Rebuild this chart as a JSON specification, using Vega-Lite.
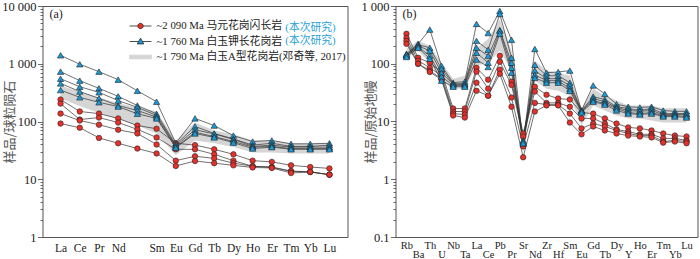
{
  "$schema": "https://vega.github.io/schema/vega-lite/v6.json",
  "padding": {"left": 0.5, "top": -1, "right": 2, "bottom": 0},
  "bounds": "flush",
  "spacing": 48,
  "config": {
    "view": {"stroke": "#555555", "strokeWidth": 1},
    "axis": {"grid": false, "domain": false, "labelFont": "Liberation Serif, Noto Sans CJK SC", "labelColor": "#222222", "tickColor": "#444444", "tickWidth": 0.8, "titleFont": "Noto Sans CJK SC", "titleColor": "#555555", "titleFontWeight": "normal"},
    "legend": {"labelFont": "Liberation Serif, Noto Sans CJK SC", "labelColor": "#222222", "labelLimit": 400},
    "title": {"font": "Liberation Serif", "fontWeight": "normal", "color": "#222222", "fontSize": 12}
  },
  "resolve": {"scale": {"shape": "independent", "fill": "independent", "stroke": "independent", "strokeDash": "independent"}},
  "datasets": {
    "leg": [
      {"g": "~2 090 Ma 马元花岗闪长岩", "b": "r1"},
      {"g": "~1 760 Ma 白玉钾长花岗岩", "b": "r2"},
      {"g": "~1 790 Ma 白玉A型花岗岩(邓奇等, 2017)", "b": "r2"}
    ],
    "reeband": [
      {"el": "La", "hi": 420, "lo": 250}, {"el": "Ce", "hi": 330, "lo": 185}, {"el": "Pr", "hi": 260, "lo": 140},
      {"el": "Nd", "hi": 210, "lo": 110}, {"el": "Pm", "hi": 175, "lo": 85}, {"el": "Sm", "hi": 150, "lo": 62},
      {"el": "Eu", "hi": 47, "lo": 26}, {"el": "Gd", "hi": 96, "lo": 47}, {"el": "Tb", "hi": 70, "lo": 42},
      {"el": "Dy", "hi": 60, "lo": 36}, {"el": "Ho", "hi": 47, "lo": 29}, {"el": "Er", "hi": 47, "lo": 29},
      {"el": "Tm", "hi": 42, "lo": 28}, {"el": "Yb", "hi": 42, "lo": 28}, {"el": "Lu", "hi": 42, "lo": 28}
    ],
    "ree": [
      {"s": "B1", "g": "b", "el": "La", "v": 1400}, {"s": "B1", "g": "b", "el": "Ce", "v": 980}, {"s": "B1", "g": "b", "el": "Pr", "v": 730}, {"s": "B1", "g": "b", "el": "Nd", "v": 530}, {"s": "B1", "g": "b", "el": "Pm", "v": 340}, {"s": "B1", "g": "b", "el": "Sm", "v": 220}, {"s": "B1", "g": "b", "el": "Eu", "v": 42}, {"s": "B1", "g": "b", "el": "Gd", "v": 113}, {"s": "B1", "g": "b", "el": "Tb", "v": 85}, {"s": "B1", "g": "b", "el": "Dy", "v": 57}, {"s": "B1", "g": "b", "el": "Ho", "v": 45}, {"s": "B1", "g": "b", "el": "Er", "v": 47}, {"s": "B1", "g": "b", "el": "Tm", "v": 41}, {"s": "B1", "g": "b", "el": "Yb", "v": 41}, {"s": "B1", "g": "b", "el": "Lu", "v": 42},
      {"s": "B2", "g": "b", "el": "La", "v": 730}, {"s": "B2", "g": "b", "el": "Ce", "v": 510}, {"s": "B2", "g": "b", "el": "Pr", "v": 375}, {"s": "B2", "g": "b", "el": "Nd", "v": 273}, {"s": "B2", "g": "b", "el": "Pm", "v": 189}, {"s": "B2", "g": "b", "el": "Sm", "v": 136}, {"s": "B2", "g": "b", "el": "Eu", "v": 40}, {"s": "B2", "g": "b", "el": "Gd", "v": 82}, {"s": "B2", "g": "b", "el": "Tb", "v": 62}, {"s": "B2", "g": "b", "el": "Dy", "v": 50}, {"s": "B2", "g": "b", "el": "Ho", "v": 39}, {"s": "B2", "g": "b", "el": "Er", "v": 42}, {"s": "B2", "g": "b", "el": "Tm", "v": 37}, {"s": "B2", "g": "b", "el": "Yb", "v": 37}, {"s": "B2", "g": "b", "el": "Lu", "v": 39},
      {"s": "B3", "g": "b", "el": "La", "v": 550}, {"s": "B3", "g": "b", "el": "Ce", "v": 400}, {"s": "B3", "g": "b", "el": "Pr", "v": 320}, {"s": "B3", "g": "b", "el": "Nd", "v": 230}, {"s": "B3", "g": "b", "el": "Pm", "v": 176}, {"s": "B3", "g": "b", "el": "Sm", "v": 127}, {"s": "B3", "g": "b", "el": "Eu", "v": 38}, {"s": "B3", "g": "b", "el": "Gd", "v": 72}, {"s": "B3", "g": "b", "el": "Tb", "v": 61}, {"s": "B3", "g": "b", "el": "Dy", "v": 49}, {"s": "B3", "g": "b", "el": "Ho", "v": 37}, {"s": "B3", "g": "b", "el": "Er", "v": 39}, {"s": "B3", "g": "b", "el": "Tm", "v": 36}, {"s": "B3", "g": "b", "el": "Yb", "v": 36}, {"s": "B3", "g": "b", "el": "Lu", "v": 36},
      {"s": "B4", "g": "b", "el": "La", "v": 457}, {"s": "B4", "g": "b", "el": "Ce", "v": 330}, {"s": "B4", "g": "b", "el": "Pr", "v": 252}, {"s": "B4", "g": "b", "el": "Nd", "v": 189}, {"s": "B4", "g": "b", "el": "Pm", "v": 155}, {"s": "B4", "g": "b", "el": "Sm", "v": 119}, {"s": "B4", "g": "b", "el": "Eu", "v": 36}, {"s": "B4", "g": "b", "el": "Gd", "v": 65}, {"s": "B4", "g": "b", "el": "Tb", "v": 55}, {"s": "B4", "g": "b", "el": "Dy", "v": 45}, {"s": "B4", "g": "b", "el": "Ho", "v": 36}, {"s": "B4", "g": "b", "el": "Er", "v": 37}, {"s": "B4", "g": "b", "el": "Tm", "v": 34}, {"s": "B4", "g": "b", "el": "Yb", "v": 34}, {"s": "B4", "g": "b", "el": "Lu", "v": 34},
      {"s": "B5", "g": "b", "el": "La", "v": 350}, {"s": "B5", "g": "b", "el": "Ce", "v": 262}, {"s": "B5", "g": "b", "el": "Pr", "v": 215}, {"s": "B5", "g": "b", "el": "Nd", "v": 181}, {"s": "B5", "g": "b", "el": "Pm", "v": 136}, {"s": "B5", "g": "b", "el": "Sm", "v": 113}, {"s": "B5", "g": "b", "el": "Eu", "v": 35}, {"s": "B5", "g": "b", "el": "Gd", "v": 62}, {"s": "B5", "g": "b", "el": "Tb", "v": 53}, {"s": "B5", "g": "b", "el": "Dy", "v": 43}, {"s": "B5", "g": "b", "el": "Ho", "v": 34}, {"s": "B5", "g": "b", "el": "Er", "v": 36}, {"s": "B5", "g": "b", "el": "Tm", "v": 33}, {"s": "B5", "g": "b", "el": "Yb", "v": 33}, {"s": "B5", "g": "b", "el": "Lu", "v": 33},
      {"s": "R1", "g": "r", "el": "La", "v": 240}, {"s": "R1", "g": "r", "el": "Ce", "v": 149}, {"s": "R1", "g": "r", "el": "Pr", "v": 137}, {"s": "R1", "g": "r", "el": "Nd", "v": 113}, {"s": "R1", "g": "r", "el": "Pm", "v": 85}, {"s": "R1", "g": "r", "el": "Sm", "v": 75}, {"s": "R1", "g": "r", "el": "Eu", "v": 42}, {"s": "R1", "g": "r", "el": "Gd", "v": 39}, {"s": "R1", "g": "r", "el": "Tb", "v": 33}, {"s": "R1", "g": "r", "el": "Dy", "v": 27}, {"s": "R1", "g": "r", "el": "Ho", "v": 21}, {"s": "R1", "g": "r", "el": "Er", "v": 20}, {"s": "R1", "g": "r", "el": "Tm", "v": 17.4}, {"s": "R1", "g": "r", "el": "Yb", "v": 16.3}, {"s": "R1", "g": "r", "el": "Lu", "v": 15.4},
      {"s": "R2", "g": "r", "el": "La", "v": 204}, {"s": "R2", "g": "r", "el": "Ce", "v": 108}, {"s": "R2", "g": "r", "el": "Pr", "v": 117}, {"s": "R2", "g": "r", "el": "Nd", "v": 96}, {"s": "R2", "g": "r", "el": "Pm", "v": 73}, {"s": "R2", "g": "r", "el": "Sm", "v": 53}, {"s": "R2", "g": "r", "el": "Eu", "v": 33}, {"s": "R2", "g": "r", "el": "Gd", "v": 33}, {"s": "R2", "g": "r", "el": "Tb", "v": 27}, {"s": "R2", "g": "r", "el": "Dy", "v": 21}, {"s": "R2", "g": "r", "el": "Ho", "v": 16.8}, {"s": "R2", "g": "r", "el": "Er", "v": 16.3}, {"s": "R2", "g": "r", "el": "Tm", "v": 13.9}, {"s": "R2", "g": "r", "el": "Yb", "v": 13.4}, {"s": "R2", "g": "r", "el": "Lu", "v": 12},
      {"s": "R3", "g": "r", "el": "La", "v": 137}, {"s": "R3", "g": "r", "el": "Ce", "v": 104}, {"s": "R3", "g": "r", "el": "Pr", "v": 88}, {"s": "R3", "g": "r", "el": "Nd", "v": 72}, {"s": "R3", "g": "r", "el": "Pm", "v": 62}, {"s": "R3", "g": "r", "el": "Sm", "v": 40}, {"s": "R3", "g": "r", "el": "Eu", "v": 21}, {"s": "R3", "g": "r", "el": "Gd", "v": 25}, {"s": "R3", "g": "r", "el": "Tb", "v": 23}, {"s": "R3", "g": "r", "el": "Dy", "v": 19}, {"s": "R3", "g": "r", "el": "Ho", "v": 16.8}, {"s": "R3", "g": "r", "el": "Er", "v": 16}, {"s": "R3", "g": "r", "el": "Tm", "v": 13.7}, {"s": "R3", "g": "r", "el": "Yb", "v": 13.4}, {"s": "R3", "g": "r", "el": "Lu", "v": 12},
      {"s": "R4", "g": "r", "el": "La", "v": 92}, {"s": "R4", "g": "r", "el": "Ce", "v": 78}, {"s": "R4", "g": "r", "el": "Pr", "v": 52}, {"s": "R4", "g": "r", "el": "Nd", "v": 42}, {"s": "R4", "g": "r", "el": "Pm", "v": 34}, {"s": "R4", "g": "r", "el": "Sm", "v": 28}, {"s": "R4", "g": "r", "el": "Eu", "v": 17}, {"s": "R4", "g": "r", "el": "Gd", "v": 20.7}, {"s": "R4", "g": "r", "el": "Tb", "v": 19}, {"s": "R4", "g": "r", "el": "Dy", "v": 17.4}, {"s": "R4", "g": "r", "el": "Ho", "v": 16}, {"s": "R4", "g": "r", "el": "Er", "v": 15.7}, {"s": "R4", "g": "r", "el": "Tm", "v": 12.8}, {"s": "R4", "g": "r", "el": "Yb", "v": 13.4}, {"s": "R4", "g": "r", "el": "Lu", "v": 12}
    ],
    "trband": [
      {"el": "Rb", "hi": 181, "lo": 122}, {"el": "Ba", "hi": 249, "lo": 168}, {"el": "Th", "hi": 204, "lo": 104}, {"el": "U", "hi": 104, "lo": 51}, {"el": "Nb", "hi": 55, "lo": 37},
      {"el": "Ta", "hi": 62, "lo": 37}, {"el": "La", "hi": 181, "lo": 92}, {"el": "Ce", "hi": 270, "lo": 104}, {"el": "Pb", "hi": 597, "lo": 168}, {"el": "Pr", "hi": 168, "lo": 76},
      {"el": "Sr", "hi": 5, "lo": 3}, {"el": "Nd", "hi": 113, "lo": 51}, {"el": "Zr", "hi": 76, "lo": 37}, {"el": "Hf", "hi": 70, "lo": 34}, {"el": "Sm", "hi": 62, "lo": 28},
      {"el": "Eu", "hi": 17, "lo": 8.5}, {"el": "Gd", "hi": 37, "lo": 19}, {"el": "Tb", "hi": 28, "lo": 15.5}, {"el": "Dy", "hi": 23, "lo": 12.7}, {"el": "Y", "hi": 19, "lo": 11.3},
      {"el": "Ho", "hi": 19, "lo": 11.3}, {"el": "Er", "hi": 19, "lo": 10.4}, {"el": "Tm", "hi": 17, "lo": 9.6}, {"el": "Yb", "hi": 17, "lo": 9.6}, {"el": "Lu", "hi": 17, "lo": 9.6}
    ],
    "tr": [
      {"s": "B1", "g": "b", "el": "Rb", "v": 149}, {"s": "B1", "g": "b", "el": "Ba", "v": 221}, {"s": "B1", "g": "b", "el": "Th", "v": 390}, {"s": "B1", "g": "b", "el": "U", "v": 92}, {"s": "B1", "g": "b", "el": "Nb", "v": 47}, {"s": "B1", "g": "b", "el": "Ta", "v": 49}, {"s": "B1", "g": "b", "el": "La", "v": 490}, {"s": "B1", "g": "b", "el": "Ce", "v": 340}, {"s": "B1", "g": "b", "el": "Pb", "v": 820}, {"s": "B1", "g": "b", "el": "Pr", "v": 260}, {"s": "B1", "g": "b", "el": "Sr", "v": 4.2}, {"s": "B1", "g": "b", "el": "Nd", "v": 180}, {"s": "B1", "g": "b", "el": "Zr", "v": 70}, {"s": "B1", "g": "b", "el": "Hf", "v": 72}, {"s": "B1", "g": "b", "el": "Sm", "v": 76}, {"s": "B1", "g": "b", "el": "Eu", "v": 15.5}, {"s": "B1", "g": "b", "el": "Gd", "v": 42}, {"s": "B1", "g": "b", "el": "Tb", "v": 30}, {"s": "B1", "g": "b", "el": "Dy", "v": 20}, {"s": "B1", "g": "b", "el": "Y", "v": 18}, {"s": "B1", "g": "b", "el": "Ho", "v": 17.5}, {"s": "B1", "g": "b", "el": "Er", "v": 18}, {"s": "B1", "g": "b", "el": "Tm", "v": 15.5}, {"s": "B1", "g": "b", "el": "Yb", "v": 15}, {"s": "B1", "g": "b", "el": "Lu", "v": 15},
      {"s": "B2", "g": "b", "el": "Rb", "v": 143}, {"s": "B2", "g": "b", "el": "Ba", "v": 214}, {"s": "B2", "g": "b", "el": "Th", "v": 189}, {"s": "B2", "g": "b", "el": "U", "v": 82}, {"s": "B2", "g": "b", "el": "Nb", "v": 45}, {"s": "B2", "g": "b", "el": "Ta", "v": 45}, {"s": "B2", "g": "b", "el": "La", "v": 249}, {"s": "B2", "g": "b", "el": "Ce", "v": 175}, {"s": "B2", "g": "b", "el": "Pb", "v": 728}, {"s": "B2", "g": "b", "el": "Pr", "v": 127}, {"s": "B2", "g": "b", "el": "Sr", "v": 4.7}, {"s": "B2", "g": "b", "el": "Nd", "v": 96}, {"s": "B2", "g": "b", "el": "Zr", "v": 62}, {"s": "B2", "g": "b", "el": "Hf", "v": 62}, {"s": "B2", "g": "b", "el": "Sm", "v": 47}, {"s": "B2", "g": "b", "el": "Eu", "v": 15.5}, {"s": "B2", "g": "b", "el": "Gd", "v": 27}, {"s": "B2", "g": "b", "el": "Tb", "v": 24}, {"s": "B2", "g": "b", "el": "Dy", "v": 18}, {"s": "B2", "g": "b", "el": "Y", "v": 16.8}, {"s": "B2", "g": "b", "el": "Ho", "v": 15.5}, {"s": "B2", "g": "b", "el": "Er", "v": 16.8}, {"s": "B2", "g": "b", "el": "Tm", "v": 13.7}, {"s": "B2", "g": "b", "el": "Yb", "v": 13.7}, {"s": "B2", "g": "b", "el": "Lu", "v": 13.7},
      {"s": "B3", "g": "b", "el": "Rb", "v": 137}, {"s": "B3", "g": "b", "el": "Ba", "v": 204}, {"s": "B3", "g": "b", "el": "Th", "v": 168}, {"s": "B3", "g": "b", "el": "U", "v": 70}, {"s": "B3", "g": "b", "el": "Nb", "v": 44}, {"s": "B3", "g": "b", "el": "Ta", "v": 44}, {"s": "B3", "g": "b", "el": "La", "v": 189}, {"s": "B3", "g": "b", "el": "Ce", "v": 137}, {"s": "B3", "g": "b", "el": "Pb", "v": 385}, {"s": "B3", "g": "b", "el": "Pr", "v": 104}, {"s": "B3", "g": "b", "el": "Sr", "v": 4.3}, {"s": "B3", "g": "b", "el": "Nd", "v": 76}, {"s": "B3", "g": "b", "el": "Zr", "v": 55}, {"s": "B3", "g": "b", "el": "Hf", "v": 55}, {"s": "B3", "g": "b", "el": "Sm", "v": 42}, {"s": "B3", "g": "b", "el": "Eu", "v": 15}, {"s": "B3", "g": "b", "el": "Gd", "v": 25}, {"s": "B3", "g": "b", "el": "Tb", "v": 22}, {"s": "B3", "g": "b", "el": "Dy", "v": 17.5}, {"s": "B3", "g": "b", "el": "Y", "v": 15.5}, {"s": "B3", "g": "b", "el": "Ho", "v": 15}, {"s": "B3", "g": "b", "el": "Er", "v": 15.5}, {"s": "B3", "g": "b", "el": "Tm", "v": 13.2}, {"s": "B3", "g": "b", "el": "Yb", "v": 13.2}, {"s": "B3", "g": "b", "el": "Lu", "v": 13.2},
      {"s": "B4", "g": "b", "el": "Rb", "v": 143}, {"s": "B4", "g": "b", "el": "Ba", "v": 196}, {"s": "B4", "g": "b", "el": "Th", "v": 137}, {"s": "B4", "g": "b", "el": "U", "v": 60}, {"s": "B4", "g": "b", "el": "Nb", "v": 42}, {"s": "B4", "g": "b", "el": "Ta", "v": 42}, {"s": "B4", "g": "b", "el": "La", "v": 155}, {"s": "B4", "g": "b", "el": "Ce", "v": 104}, {"s": "B4", "g": "b", "el": "Pb", "v": 370}, {"s": "B4", "g": "b", "el": "Pr", "v": 85}, {"s": "B4", "g": "b", "el": "Sr", "v": 4.5}, {"s": "B4", "g": "b", "el": "Nd", "v": 64}, {"s": "B4", "g": "b", "el": "Zr", "v": 51}, {"s": "B4", "g": "b", "el": "Hf", "v": 51}, {"s": "B4", "g": "b", "el": "Sm", "v": 37}, {"s": "B4", "g": "b", "el": "Eu", "v": 15}, {"s": "B4", "g": "b", "el": "Gd", "v": 23}, {"s": "B4", "g": "b", "el": "Tb", "v": 20.5}, {"s": "B4", "g": "b", "el": "Dy", "v": 16.8}, {"s": "B4", "g": "b", "el": "Y", "v": 14.3}, {"s": "B4", "g": "b", "el": "Ho", "v": 13.7}, {"s": "B4", "g": "b", "el": "Er", "v": 14.3}, {"s": "B4", "g": "b", "el": "Tm", "v": 12.7}, {"s": "B4", "g": "b", "el": "Yb", "v": 12.7}, {"s": "B4", "g": "b", "el": "Lu", "v": 12.2},
      {"s": "B5", "g": "b", "el": "Rb", "v": 131}, {"s": "B5", "g": "b", "el": "Ba", "v": 189}, {"s": "B5", "g": "b", "el": "Th", "v": 122}, {"s": "B5", "g": "b", "el": "U", "v": 51}, {"s": "B5", "g": "b", "el": "Nb", "v": 40}, {"s": "B5", "g": "b", "el": "Ta", "v": 40}, {"s": "B5", "g": "b", "el": "La", "v": 118}, {"s": "B5", "g": "b", "el": "Ce", "v": 88}, {"s": "B5", "g": "b", "el": "Pb", "v": 330}, {"s": "B5", "g": "b", "el": "Pr", "v": 70}, {"s": "B5", "g": "b", "el": "Sr", "v": 4.2}, {"s": "B5", "g": "b", "el": "Nd", "v": 57}, {"s": "B5", "g": "b", "el": "Zr", "v": 47}, {"s": "B5", "g": "b", "el": "Hf", "v": 47}, {"s": "B5", "g": "b", "el": "Sm", "v": 34}, {"s": "B5", "g": "b", "el": "Eu", "v": 14.3}, {"s": "B5", "g": "b", "el": "Gd", "v": 22}, {"s": "B5", "g": "b", "el": "Tb", "v": 19.6}, {"s": "B5", "g": "b", "el": "Dy", "v": 15.5}, {"s": "B5", "g": "b", "el": "Y", "v": 13.7}, {"s": "B5", "g": "b", "el": "Ho", "v": 13.2}, {"s": "B5", "g": "b", "el": "Er", "v": 13.7}, {"s": "B5", "g": "b", "el": "Tm", "v": 12.2}, {"s": "B5", "g": "b", "el": "Yb", "v": 12.2}, {"s": "B5", "g": "b", "el": "Lu", "v": 11.7},
      {"s": "R1", "g": "r", "el": "Rb", "v": 330}, {"s": "R1", "g": "r", "el": "Ba", "v": 127}, {"s": "R1", "g": "r", "el": "Th", "v": 104}, {"s": "R1", "g": "r", "el": "U", "v": 72}, {"s": "R1", "g": "r", "el": "Nb", "v": 16.8}, {"s": "R1", "g": "r", "el": "Ta", "v": 16.8}, {"s": "R1", "g": "r", "el": "La", "v": 85}, {"s": "R1", "g": "r", "el": "Ce", "v": 53}, {"s": "R1", "g": "r", "el": "Pb", "v": 137}, {"s": "R1", "g": "r", "el": "Pr", "v": 49}, {"s": "R1", "g": "r", "el": "Sr", "v": 6.2}, {"s": "R1", "g": "r", "el": "Nd", "v": 40}, {"s": "R1", "g": "r", "el": "Zr", "v": 29}, {"s": "R1", "g": "r", "el": "Hf", "v": 25}, {"s": "R1", "g": "r", "el": "Sm", "v": 24}, {"s": "R1", "g": "r", "el": "Eu", "v": 14.3}, {"s": "R1", "g": "r", "el": "Gd", "v": 13.7}, {"s": "R1", "g": "r", "el": "Tb", "v": 11.3}, {"s": "R1", "g": "r", "el": "Dy", "v": 9.2}, {"s": "R1", "g": "r", "el": "Y", "v": 7.9}, {"s": "R1", "g": "r", "el": "Ho", "v": 7.6}, {"s": "R1", "g": "r", "el": "Er", "v": 7.0}, {"s": "R1", "g": "r", "el": "Tm", "v": 6.2}, {"s": "R1", "g": "r", "el": "Yb", "v": 5.7}, {"s": "R1", "g": "r", "el": "Lu", "v": 5.5},
      {"s": "R2", "g": "r", "el": "Rb", "v": 280}, {"s": "R2", "g": "r", "el": "Ba", "v": 113}, {"s": "R2", "g": "r", "el": "Th", "v": 85}, {"s": "R2", "g": "r", "el": "U", "v": 62}, {"s": "R2", "g": "r", "el": "Nb", "v": 14.9}, {"s": "R2", "g": "r", "el": "Ta", "v": 14.9}, {"s": "R2", "g": "r", "el": "La", "v": 73}, {"s": "R2", "g": "r", "el": "Ce", "v": 37}, {"s": "R2", "g": "r", "el": "Pb", "v": 108}, {"s": "R2", "g": "r", "el": "Pr", "v": 43}, {"s": "R2", "g": "r", "el": "Sr", "v": 5.5}, {"s": "R2", "g": "r", "el": "Nd", "v": 33}, {"s": "R2", "g": "r", "el": "Zr", "v": 21}, {"s": "R2", "g": "r", "el": "Hf", "v": 21}, {"s": "R2", "g": "r", "el": "Sm", "v": 18}, {"s": "R2", "g": "r", "el": "Eu", "v": 11.3}, {"s": "R2", "g": "r", "el": "Gd", "v": 11.3}, {"s": "R2", "g": "r", "el": "Tb", "v": 9.2}, {"s": "R2", "g": "r", "el": "Dy", "v": 7.3}, {"s": "R2", "g": "r", "el": "Y", "v": 6.7}, {"s": "R2", "g": "r", "el": "Ho", "v": 6.0}, {"s": "R2", "g": "r", "el": "Er", "v": 6.0}, {"s": "R2", "g": "r", "el": "Tm", "v": 5.1}, {"s": "R2", "g": "r", "el": "Yb", "v": 5.1}, {"s": "R2", "g": "r", "el": "Lu", "v": 4.7},
      {"s": "R3", "g": "r", "el": "Rb", "v": 249}, {"s": "R3", "g": "r", "el": "Ba", "v": 100}, {"s": "R3", "g": "r", "el": "Th", "v": 76}, {"s": "R3", "g": "r", "el": "U", "v": 55}, {"s": "R3", "g": "r", "el": "Nb", "v": 13.7}, {"s": "R3", "g": "r", "el": "Ta", "v": 13.2}, {"s": "R3", "g": "r", "el": "La", "v": 47}, {"s": "R3", "g": "r", "el": "Ce", "v": 28}, {"s": "R3", "g": "r", "el": "Pb", "v": 79}, {"s": "R3", "g": "r", "el": "Pr", "v": 26}, {"s": "R3", "g": "r", "el": "Sr", "v": 3.7}, {"s": "R3", "g": "r", "el": "Nd", "v": 21}, {"s": "R3", "g": "r", "el": "Zr", "v": 19.6}, {"s": "R3", "g": "r", "el": "Hf", "v": 19.6}, {"s": "R3", "g": "r", "el": "Sm", "v": 13.7}, {"s": "R3", "g": "r", "el": "Eu", "v": 7.6}, {"s": "R3", "g": "r", "el": "Gd", "v": 9.2}, {"s": "R3", "g": "r", "el": "Tb", "v": 8.2}, {"s": "R3", "g": "r", "el": "Dy", "v": 7.0}, {"s": "R3", "g": "r", "el": "Y", "v": 6.2}, {"s": "R3", "g": "r", "el": "Ho", "v": 5.7}, {"s": "R3", "g": "r", "el": "Er", "v": 5.7}, {"s": "R3", "g": "r", "el": "Tm", "v": 4.5}, {"s": "R3", "g": "r", "el": "Yb", "v": 4.7}, {"s": "R3", "g": "r", "el": "Lu", "v": 4.5},
      {"s": "R4", "g": "r", "el": "Rb", "v": 221}, {"s": "R4", "g": "r", "el": "Ba", "v": 100}, {"s": "R4", "g": "r", "el": "Th", "v": 72}, {"s": "R4", "g": "r", "el": "U", "v": 53}, {"s": "R4", "g": "r", "el": "Nb", "v": 12.7}, {"s": "R4", "g": "r", "el": "Ta", "v": 11.7}, {"s": "R4", "g": "r", "el": "La", "v": 34}, {"s": "R4", "g": "r", "el": "Ce", "v": 28}, {"s": "R4", "g": "r", "el": "Pb", "v": 67}, {"s": "R4", "g": "r", "el": "Pr", "v": 18}, {"s": "R4", "g": "r", "el": "Sr", "v": 2.4}, {"s": "R4", "g": "r", "el": "Nd", "v": 14.9}, {"s": "R4", "g": "r", "el": "Zr", "v": 19}, {"s": "R4", "g": "r", "el": "Hf", "v": 19}, {"s": "R4", "g": "r", "el": "Sm", "v": 9.6}, {"s": "R4", "g": "r", "el": "Eu", "v": 6.0}, {"s": "R4", "g": "r", "el": "Gd", "v": 8.2}, {"s": "R4", "g": "r", "el": "Tb", "v": 7.0}, {"s": "R4", "g": "r", "el": "Dy", "v": 6.2}, {"s": "R4", "g": "r", "el": "Y", "v": 5.7}, {"s": "R4", "g": "r", "el": "Ho", "v": 5.5}, {"s": "R4", "g": "r", "el": "Er", "v": 5.3}, {"s": "R4", "g": "r", "el": "Tm", "v": 4.3}, {"s": "R4", "g": "r", "el": "Yb", "v": 4.5}, {"s": "R4", "g": "r", "el": "Lu", "v": 4.2}
    ]
  },
  "hconcat": [
    {
      "width": 305,
      "height": 231,
      "title": {"text": "(a)", "anchor": "start", "frame": "group", "offset": -21, "dx": 7},
      "resolve": {"axis": {"y": "independent"}},
      "layer": [
        {
          "data": {"name": "reeband"},
          "mark": {"type": "area", "color": "#d5d5d5", "opacity": 1},
          "encoding": {
            "x": {"field": "el", "type": "nominal", "sort": ["La","Ce","Pr","Nd","Pm","Sm","Eu","Gd","Tb","Dy","Ho","Er","Tm","Yb","Lu"], "scale": {"type": "point", "padding": 0.94}, "axis": {"title": null, "labelAngle": 0, "labelExpr": "datum.value == 'Pm' ? '' : datum.value", "ticks": false, "labelPadding": 5, "labelFontSize": 11.5, "labelOverlap": false}},
            "y": {"field": "hi", "type": "quantitative", "scale": {"type": "log", "domain": [1, 10000]}, "axis": {"orient": "left", "values": [2,3,4,5,6,7,8,9,20,30,40,50,60,70,80,90,200,300,400,500,600,700,800,900,2000,3000,4000,5000,6000,7000,8000,9000], "labels": false, "tickSize": 2.5, "title": null}},
            "y2": {"field": "lo"}
          }
        },
        {
          "data": {"name": "ree"},
          "mark": {"type": "line", "color": "#333333", "strokeWidth": 0.7},
          "encoding": {
            "x": {"field": "el", "type": "nominal", "sort": ["La","Ce","Pr","Nd","Pm","Sm","Eu","Gd","Tb","Dy","Ho","Er","Tm","Yb","Lu"], "scale": {"type": "point", "padding": 0.94}, "axis": {"title": null, "labelAngle": 0, "labelExpr": "datum.value == 'Pm' ? '' : datum.value", "ticks": false, "labelPadding": 5, "labelFontSize": 11.5, "labelOverlap": false}},
            "y": {"field": "v", "type": "quantitative", "scale": {"type": "log", "domain": [1, 10000]}, "axis": {"orient": "left", "values": [1, 10, 100, 1000, 10000], "labelExpr": "replace(format(datum.value, ','), ',', ' ')", "tickSize": 5, "labelPadding": 1.5, "labelFontSize": 12.5, "title": "样品/球粒陨石", "titleFontSize": 13, "titleX": -33, "titleBaseline": "middle"}},
            "detail": {"field": "s"}
          }
        },
        {
          "data": {"name": "ree"},
          "transform": [{"filter": "datum.g == 'r'"}],
          "mark": {"type": "point", "shape": "circle", "filled": true, "fill": "#e8302a", "stroke": "#222222", "strokeWidth": 0.6, "size": 30, "opacity": 1},
          "encoding": {
            "x": {"field": "el", "type": "nominal", "sort": ["La","Ce","Pr","Nd","Pm","Sm","Eu","Gd","Tb","Dy","Ho","Er","Tm","Yb","Lu"], "scale": {"type": "point", "padding": 0.94}, "axis": {"title": null, "labelAngle": 0, "labelExpr": "datum.value == 'Pm' ? '' : datum.value", "ticks": false, "labelPadding": 5, "labelFontSize": 11.5, "labelOverlap": false}},
            "y": {"field": "v", "type": "quantitative", "scale": {"type": "log", "domain": [1, 10000]}, "axis": null}
          }
        },
        {
          "data": {"name": "ree"},
          "transform": [{"filter": "datum.g == 'b'"}],
          "mark": {"type": "point", "shape": "triangle-up", "filled": true, "fill": "#1b9ad7", "stroke": "#222222", "strokeWidth": 0.6, "size": 40, "opacity": 1},
          "encoding": {
            "x": {"field": "el", "type": "nominal", "sort": ["La","Ce","Pr","Nd","Pm","Sm","Eu","Gd","Tb","Dy","Ho","Er","Tm","Yb","Lu"], "scale": {"type": "point", "padding": 0.94}, "axis": {"title": null, "labelAngle": 0, "labelExpr": "datum.value == 'Pm' ? '' : datum.value", "ticks": false, "labelPadding": 5, "labelFontSize": 11.5, "labelOverlap": false}},
            "y": {"field": "v", "type": "quantitative", "scale": {"type": "log", "domain": [1, 10000]}, "axis": null}
          }
        },
        {
          "data": {"name": "leg"},
          "mark": {"type": "point", "filled": true, "size": 0, "strokeWidth": 0.8, "opacity": 1},
          "encoding": {
            "shape": {"field": "g", "type": "nominal", "scale": {"domain": ["~2 090 Ma 马元花岗闪长岩", "~1 760 Ma 白玉钾长花岗岩", "~1 790 Ma 白玉A型花岗岩(邓奇等, 2017)"], "range": ["M-1.5,0L-0.37,0M0.37,0L1.5,0M-0.37,0A0.37,0.37,0,1,1,0.37,0A0.37,0.37,0,1,1,-0.37,0Z", "M-1.5,0L-0.26,0M0.26,0L1.5,0M0,-0.45L0.45,0.33L-0.45,0.33Z", "M-1.5,-0.26L1.5,-0.26L1.5,0.26L-1.5,0.26Z"]}, "legend": {"title": null, "orient": "none", "legendX": 90, "legendY": 12, "symbolSize": 213, "symbolStrokeWidth": 0.8, "symbolOpacity": 1, "labelFontSize": 10.8, "labelOffset": 8, "rowPadding": 2.5}},
            "fill": {"field": "g", "type": "nominal", "scale": {"domain": ["~2 090 Ma 马元花岗闪长岩", "~1 760 Ma 白玉钾长花岗岩", "~1 790 Ma 白玉A型花岗岩(邓奇等, 2017)"], "range": ["#e8302a", "#1b9ad7", "#d5d5d5"]}},
            "stroke": {"field": "g", "type": "nominal", "scale": {"domain": ["~2 090 Ma 马元花岗闪长岩", "~1 760 Ma 白玉钾长花岗岩", "~1 790 Ma 白玉A型花岗岩(邓奇等, 2017)"], "range": ["#222222", "#222222", "#d5d5d5"]}},
            "strokeDash": {"field": "b", "type": "nominal", "scale": {"domain": ["r1", "r2"]}, "legend": {"title": null, "orient": "none", "legendX": 232, "legendY": 16.5, "symbolOpacity": 0, "symbolSize": 1, "symbolStrokeWidth": 0, "labelOffset": 0, "labelFontSize": 10.8, "labelColor": "#2a9fd6", "labelExpr": "'(本次研究)'", "rowPadding": 1}}
          }
        }
      ]
    },
    {
      "width": 302,
      "height": 231,
      "title": {"text": "(b)", "anchor": "start", "frame": "group", "offset": -21, "dx": 7},
      "resolve": {"axis": {"y": "independent"}},
      "layer": [
        {
          "data": {"name": "trband"},
          "mark": {"type": "area", "color": "#d5d5d5", "opacity": 1},
          "encoding": {
            "x": {"field": "el", "type": "nominal", "sort": ["Rb","Ba","Th","U","Nb","Ta","La","Ce","Pb","Pr","Sr","Nd","Zr","Hf","Sm","Eu","Gd","Tb","Dy","Y","Ho","Er","Tm","Yb","Lu"], "scale": {"type": "point", "padding": 0.94}, "axis": {"title": null, "labelAngle": 0, "labelExpr": "indexof(['Rb','Ba','Th','U','Nb','Ta','La','Ce','Pb','Pr','Sr','Nd','Zr','Hf','Sm','Eu','Gd','Tb','Dy','Y','Ho','Er','Tm','Yb','Lu'], datum.value) % 2 == 1 ? ['', datum.value] : datum.value", "ticks": false, "labelPadding": 3.5, "labelFontSize": 10.5, "labelLineHeight": 9, "labelBaseline": "top", "labelOverlap": false}},
            "y": {"field": "hi", "type": "quantitative", "scale": {"type": "log", "domain": [0.1, 1000]}, "axis": {"orient": "left", "values": [0.2,0.3,0.4,0.5,0.6,0.7,0.8,0.9,2,3,4,5,6,7,8,9,20,30,40,50,60,70,80,90,200,300,400,500,600,700,800,900], "labels": false, "tickSize": 2.5, "title": null}},
            "y2": {"field": "lo"}
          }
        },
        {
          "data": {"name": "tr"},
          "mark": {"type": "line", "color": "#333333", "strokeWidth": 0.7},
          "encoding": {
            "x": {"field": "el", "type": "nominal", "sort": ["Rb","Ba","Th","U","Nb","Ta","La","Ce","Pb","Pr","Sr","Nd","Zr","Hf","Sm","Eu","Gd","Tb","Dy","Y","Ho","Er","Tm","Yb","Lu"], "scale": {"type": "point", "padding": 0.94}, "axis": {"title": null, "labelAngle": 0, "labelExpr": "indexof(['Rb','Ba','Th','U','Nb','Ta','La','Ce','Pb','Pr','Sr','Nd','Zr','Hf','Sm','Eu','Gd','Tb','Dy','Y','Ho','Er','Tm','Yb','Lu'], datum.value) % 2 == 1 ? ['', datum.value] : datum.value", "ticks": false, "labelPadding": 3.5, "labelFontSize": 10.5, "labelLineHeight": 9, "labelBaseline": "top", "labelOverlap": false}},
            "y": {"field": "v", "type": "quantitative", "scale": {"type": "log", "domain": [0.1, 1000]}, "axis": {"orient": "left", "values": [0.1, 1, 10, 100, 1000], "labelExpr": "datum.value >= 1000 ? replace(format(datum.value, ','), ',', ' ') : toString(datum.value)", "tickSize": 5, "labelPadding": 1.5, "labelFontSize": 12.5, "title": "样品/原始地幔", "titleFontSize": 13, "titleX": -25, "titleBaseline": "middle"}},
            "detail": {"field": "s"}
          }
        },
        {
          "data": {"name": "tr"},
          "transform": [{"filter": "datum.g == 'r'"}],
          "mark": {"type": "point", "shape": "circle", "filled": true, "fill": "#e8302a", "stroke": "#222222", "strokeWidth": 0.6, "size": 30, "opacity": 1},
          "encoding": {
            "x": {"field": "el", "type": "nominal", "sort": ["Rb","Ba","Th","U","Nb","Ta","La","Ce","Pb","Pr","Sr","Nd","Zr","Hf","Sm","Eu","Gd","Tb","Dy","Y","Ho","Er","Tm","Yb","Lu"], "scale": {"type": "point", "padding": 0.94}, "axis": {"title": null, "labelAngle": 0, "labelExpr": "indexof(['Rb','Ba','Th','U','Nb','Ta','La','Ce','Pb','Pr','Sr','Nd','Zr','Hf','Sm','Eu','Gd','Tb','Dy','Y','Ho','Er','Tm','Yb','Lu'], datum.value) % 2 == 1 ? ['', datum.value] : datum.value", "ticks": false, "labelPadding": 3.5, "labelFontSize": 10.5, "labelLineHeight": 9, "labelBaseline": "top", "labelOverlap": false}},
            "y": {"field": "v", "type": "quantitative", "scale": {"type": "log", "domain": [0.1, 1000]}, "axis": null}
          }
        },
        {
          "data": {"name": "tr"},
          "transform": [{"filter": "datum.g == 'b'"}],
          "mark": {"type": "point", "shape": "triangle-up", "filled": true, "fill": "#1b9ad7", "stroke": "#222222", "strokeWidth": 0.6, "size": 40, "opacity": 1},
          "encoding": {
            "x": {"field": "el", "type": "nominal", "sort": ["Rb","Ba","Th","U","Nb","Ta","La","Ce","Pb","Pr","Sr","Nd","Zr","Hf","Sm","Eu","Gd","Tb","Dy","Y","Ho","Er","Tm","Yb","Lu"], "scale": {"type": "point", "padding": 0.94}, "axis": {"title": null, "labelAngle": 0, "labelExpr": "indexof(['Rb','Ba','Th','U','Nb','Ta','La','Ce','Pb','Pr','Sr','Nd','Zr','Hf','Sm','Eu','Gd','Tb','Dy','Y','Ho','Er','Tm','Yb','Lu'], datum.value) % 2 == 1 ? ['', datum.value] : datum.value", "ticks": false, "labelPadding": 3.5, "labelFontSize": 10.5, "labelLineHeight": 9, "labelBaseline": "top", "labelOverlap": false}},
            "y": {"field": "v", "type": "quantitative", "scale": {"type": "log", "domain": [0.1, 1000]}, "axis": null}
          }
        }
      ]
    }
  ]
}
